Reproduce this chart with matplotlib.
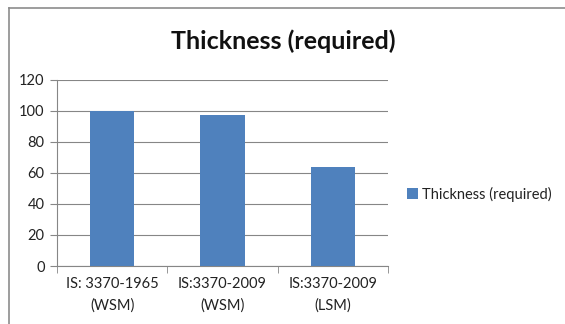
import matplotlib
matplotlib.use("Agg")
import matplotlib.pyplot as plt
from matplotlib.lines import Line2D

plt.rcParams['font.family'] = ['Lato', 'DejaVu Sans']

categories = ["IS: 3370-1965\n(WSM)", "IS:3370-2009\n(WSM)", "IS:3370-2009\n(LSM)"]
thickness = [100, 97, 64]
series_name = "Thickness (required)"
yticks = [0, 20, 40, 60, 80, 100, 120]

fig = plt.figure(figsize=(5.65, 3.24), dpi=100)
ax = fig.add_axes([0.1009, 0.179, 0.5858, 0.5756])

# outer chart frame: only the top and left edges are in the crop
fl, ft = 8.5/565, 1 - 7.5/324
fig.add_artist(Line2D([fl, 1.0], [ft, ft], transform=fig.transFigure, color='#8c8c8c', lw=1.2))
fig.add_artist(Line2D([fl, fl], [0.0, ft], transform=fig.transFigure, color='#8c8c8c', lw=1.2))

x = range(len(categories))
ax.bar(x, thickness, width=0.4, color='#4F81BD', label=series_name, zorder=3)

ax.set_xlim(-0.5, 2.5)
ax.set_ylim(0, 120)
ax.set_yticks(yticks)
ax.yaxis.grid(True, color='#868686', lw=0.8)
ax.set_axisbelow(True)

ax.set_xticks(list(x))
ax.set_xticklabels(categories, fontsize=10.5, color='#222222', linespacing=1.6)
ax.set_xticks([-0.5, 0.5, 1.5, 2.5], minor=True)
ax.tick_params(axis='x', which='major', length=0, pad=8)
ax.tick_params(axis='x', which='minor', length=5, color='#868686')
ax.tick_params(axis='y', length=5, color='#868686', labelsize=10.5, labelcolor='#222222', pad=4)

for s in ['top', 'right']:
    ax.spines[s].set_visible(False)
for s in ['left', 'bottom']:
    ax.spines[s].set_color('#868686')

fig.text(283/565, 1 - 41/324, series_name, ha='center', va='center',
         fontsize=18, fontweight='bold', color='#111111')

ax.legend(loc='center left', bbox_to_anchor=(400/565, 1 - 194/324), bbox_transform=fig.transFigure,
          frameon=False, fontsize=10.5, handlelength=0.7, handleheight=0.7, handletextpad=0.3,
          borderpad=0, labelcolor='#222222')

fig.savefig("out.png", dpi=100)
